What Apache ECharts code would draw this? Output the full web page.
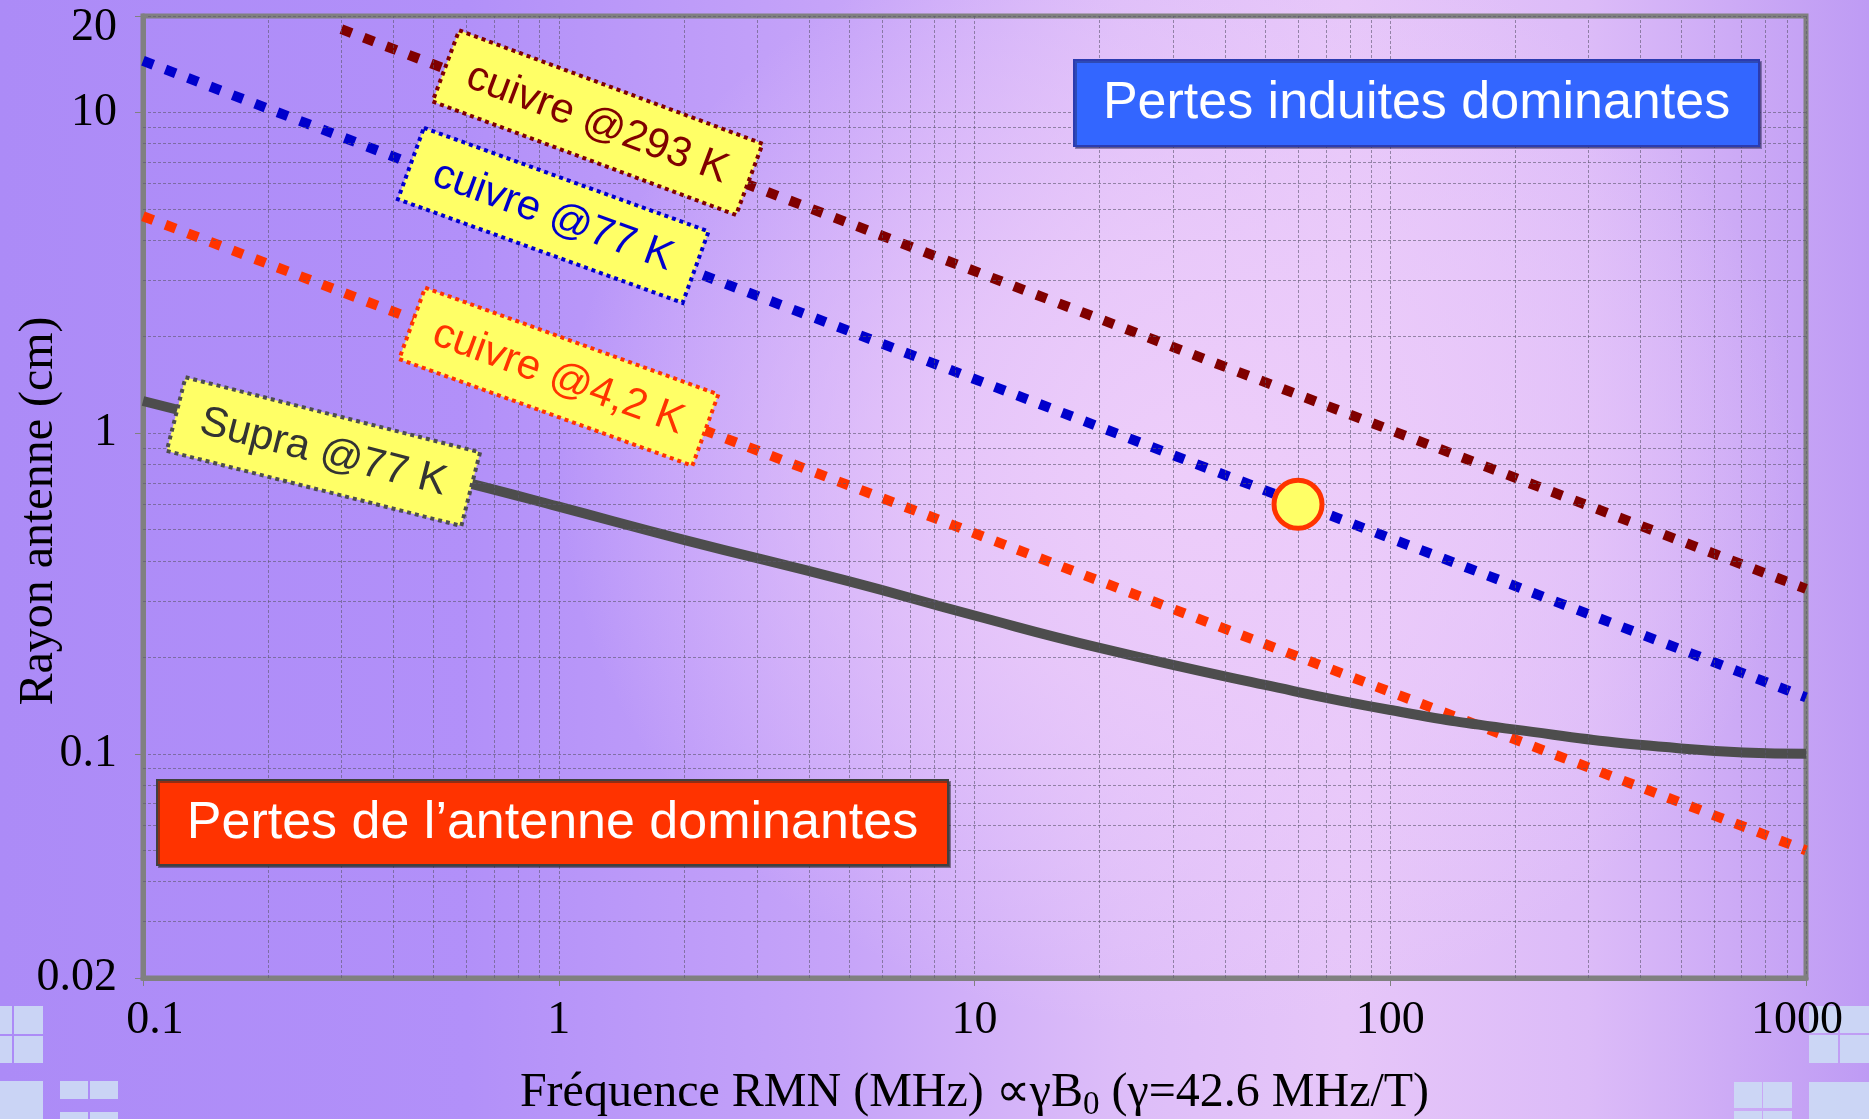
<!DOCTYPE html>
<html>
<head>
<meta charset="utf-8">
<title>Rayon antenne vs fréquence RMN</title>
<script src="https://cdn.jsdelivr.net/npm/echarts@6/dist/echarts.min.js"></script>
<style>
  html, body { margin: 0; padding: 0; width: 1869px; height: 1119px; overflow: hidden; }
  #chart {
    width: 1869px; height: 1119px;
    background:
      radial-gradient(ellipse 620px 560px at 1180px 470px, rgba(238,206,250,0.95) 0%, rgba(236,204,250,0.75) 40%, rgba(236,204,250,0) 100%),
      linear-gradient(90deg, #AC8BF7 0%, #B290F9 25%, #C6A4F9 45%, #DDBDF9 60%, #E6C6F9 72%, #DCBBF8 85%, #BE9BF4 100%);
  }
</style>
</head>
<body>
<div id="chart"></div>
<script>
// ---- axes ----
const freqMin = 0.1, freqMax = 1000;
const radiusMin = 0.02, radiusMax = 20;
const freqTicks = [0.1, 1, 10, 100, 1000];
const freqTickLabels = ['0.1', '1', '10', '100', '1000'];
const radiusTicks = [0.02, 0.1, 1, 10, 20];
const radiusTickLabels = ['0.02', '0.1', '1', '10', '20'];
const freqMinorGrid = [0.2, 0.3, 0.4, 0.5, 0.6, 0.7, 0.8, 0.9, 2, 3, 4, 5, 6, 7, 8, 9,
                       20, 30, 40, 50, 60, 70, 80, 90, 200, 300, 400, 500, 600, 700, 800, 900];
const radiusMinorGrid = [0.03, 0.04, 0.05, 0.06, 0.07, 0.08, 0.09,
                         0.2, 0.3, 0.4, 0.5, 0.6, 0.7, 0.8, 0.9, 2, 3, 4, 5, 6, 7, 8, 9];

// ---- series (frequency MHz, radius cm) ----
const cuivre293 = [[0.3, 18.2], [1000, 0.327]];
const cuivre77 = [[0.1, 14.5], [1000, 0.15]];
const cuivre42 = [[0.1, 4.75], [1000, 0.05]];
const supraFreq = [0.1, 0.63, 1, 2, 5, 10, 20, 50, 100, 200, 500, 1000];
const supraRadius = [1.26, 0.69, 0.59, 0.465, 0.345, 0.27, 0.214, 0.164, 0.137, 0.119, 0.104, 0.100];
const pointFreq = [60];
const pointRadius = [0.6];

const seriesNames = ['cuivre @293 K', 'cuivre @77 K', 'cuivre @4,2 K', 'Supra @77 K'];

const SERIF = '"Liberation Serif", "Times New Roman", Times, serif';
const SANS = '"Liberation Sans", Arial, Helvetica, sans-serif';
const GRID_LINE = { color: 'rgba(92,86,110,0.6)', width: 1, type: [3, 2] };

function tickIndex(list, v) {
  for (let i = 0; i < list.length; i++) {
    if (Math.abs(Math.log10(v) - Math.log10(list[i])) < 1e-4) return i;
  }
  return -1;
}

const chart = echarts.init(document.getElementById('chart'), null, { renderer: 'canvas' });

const option = {
  backgroundColor: 'transparent',
  animation: false,
  grid: {
    left: 143, right: 63, top: 16, bottom: 141,
    containLabel: false, outerBoundsMode: 'none',
    show: true, borderColor: '#808080', borderWidth: 5, backgroundColor: 'transparent'
  },
  xAxis: {
    type: 'log', logBase: 10, min: freqMin, max: freqMax,
    name: '{t|Fréquence RMN (MHz) ∝γB}{s|0}{t| (γ=42.6 MHz/T)}',
    nameLocation: 'middle', nameGap: 86, nameMoveOverlap: false,
    nameTextStyle: {
      color: '#000',
      rich: {
        t: { fontFamily: SERIF, fontSize: 48, lineHeight: 58, color: '#000' },
        s: { fontFamily: SERIF, fontSize: 33, lineHeight: 33, color: '#000', verticalAlign: 'bottom' }
      }
    },
    axisLine: { show: true, lineStyle: { color: '#808080', width: 5 } },
    axisTick: { show: true, length: 8, inside: false, lineStyle: { color: '#808080', width: 1 } },
    splitLine: { show: true, lineStyle: GRID_LINE },
    axisLabel: {
      show: true, margin: 20, color: '#000', fontFamily: SERIF, fontSize: 46,
      showMinLabel: true, showMaxLabel: true,
      formatter: function (v) {
        const i = tickIndex(freqTicks, v);
        if (i < 0) return '';
        if (i === 0) return '{lo|' + freqTickLabels[i] + '}';
        if (i === freqTicks.length - 1) return '{hi|' + freqTickLabels[i] + '}';
        return freqTickLabels[i];
      },
      rich: {
        lo: { fontFamily: SERIF, fontSize: 46, color: '#000', padding: [0, 0, 0, 24] },
        hi: { fontFamily: SERIF, fontSize: 46, color: '#000', padding: [0, 18, 0, 0] }
      }
    }
  },
  yAxis: {
    type: 'log', logBase: 10, min: radiusMin, max: radiusMax,
    name: 'Rayon antenne (cm)',
    nameLocation: 'middle', nameGap: 80, nameRotate: 90, nameMoveOverlap: false,
    nameTextStyle: { color: '#000', fontFamily: SERIF, fontSize: 48, padding: [0, 28, 0, 0] },
    axisLine: { show: true, lineStyle: { color: '#808080', width: 5 } },
    axisTick: { show: true, length: 8, inside: false, lineStyle: { color: '#808080', width: 1 } },
    splitLine: { show: true, lineStyle: GRID_LINE },
    axisLabel: {
      show: true, margin: 26, color: '#000', fontFamily: SERIF, fontSize: 46,
      showMinLabel: true, showMaxLabel: true,
      formatter: function (v) {
        const i = tickIndex(radiusTicks, v);
        if (i < 0) return '';
        if (i === radiusTicks.length - 1) return '{top|' + radiusTickLabels[i] + '}';
        return radiusTickLabels[i];
      },
      rich: {
        top: { fontFamily: SERIF, fontSize: 46, color: '#000', padding: [24, 0, 0, 0] }
      }
    }
  },
  series: [
    {
      name: 'minor-grid', type: 'line', data: [], z: 1, silent: true,
      markLine: {
        silent: true, symbol: ['none', 'none'], animation: false,
        label: { show: false },
        lineStyle: GRID_LINE,
        emphasis: { disabled: true },
        data: freqMinorGrid.map(v => ({ xAxis: v })).concat(radiusMinorGrid.map(v => ({ yAxis: v })))
      }
    },
    {
      name: seriesNames[0], type: 'line', data: cuivre293, showSymbol: false, silent: true, z: 3,
      lineStyle: { color: '#800000', width: 10, type: [11, 13], cap: 'butt' }
    },
    {
      name: seriesNames[1], type: 'line', data: cuivre77, showSymbol: false, silent: true, z: 3,
      lineStyle: { color: '#0000CC', width: 10, type: [11, 13], cap: 'butt' }
    },
    {
      name: seriesNames[2], type: 'line', data: cuivre42, showSymbol: false, silent: true, z: 3,
      lineStyle: { color: '#FF3300', width: 10, type: [11, 13], cap: 'butt' }
    },
    {
      name: seriesNames[3], type: 'line', smooth: 0.5, showSymbol: false, silent: true, z: 4,
      data: supraFreq.map((f, i) => [f, supraRadius[i]]),
      lineStyle: { color: '#4D4D4D', width: 10, cap: 'butt' }
    },
    {
      name: 'point', type: 'scatter', z: 6, silent: true,
      data: pointFreq.map((f, i) => [f, pointRadius[i]]),
      symbol: 'circle', symbolSize: 48,
      itemStyle: { color: '#FFFF66', borderColor: '#FF3300', borderWidth: 5, opacity: 1 }
    }
  ]
};

chart.setOption(option);

// Tags sitting on each curve (anchor in data coordinates)
const curveTags = [
  { text: seriesNames[0], at: [1.24, 9.3], w: 324, h: 76, angle: 20.5, stroke: '#800000', fill: '#800000' },
  { text: seriesNames[1], at: [0.97, 4.78], w: 303, h: 76, angle: 20, stroke: '#0000CC', fill: '#0000CC' },
  { text: seriesNames[2], at: [1.0, 1.5], w: 312, h: 76, angle: 20, stroke: '#FF3300', fill: '#FF3300' },
  { text: seriesNames[3], at: [0.2716, 0.876], w: 304, h: 76, angle: 14.3, stroke: '#4D4D4D', fill: '#333333' }
];

// Corner decoration tiles
const tiles = [
  [0, 1006, 12, 28], [14, 1006, 29, 28], [0, 1036, 12, 27], [14, 1036, 29, 27],
  [0, 1081, 43, 38], [60, 1081, 28, 18], [90, 1081, 28, 18], [60, 1112, 28, 7], [90, 1112, 28, 7],
  [1809, 1006, 29, 27], [1840, 1006, 29, 27], [1809, 1035, 29, 28], [1840, 1035, 29, 28],
  [1734, 1082, 28, 26], [1763, 1082, 29, 26], [1734, 1111, 28, 8], [1763, 1111, 29, 8], [1809, 1082, 60, 37]
];

function buildGraphics() {
  const els = [];
  tiles.forEach(r => els.push({
    type: 'rect', silent: true, z: 0,
    shape: { x: r[0], y: r[1], width: r[2], height: r[3] },
    style: { fill: 'rgba(204,218,244,0.92)' }
  }));

  curveTags.forEach(t => {
    const p = chart.convertToPixel({ gridIndex: 0 }, t.at);
    els.push({
      type: 'group', x: p[0], y: p[1], rotation: -t.angle * Math.PI / 180, z: 50, silent: true,
      children: [
        { type: 'rect', z: 50, shape: { x: -t.w / 2, y: -t.h / 2, width: t.w, height: t.h },
          style: { fill: '#FFFF66', stroke: t.stroke, lineWidth: 4, lineDash: [4, 4] } },
        { type: 'text', z: 51, x: 0, y: 1,
          style: { text: t.text, fill: t.fill, font: '42px ' + SANS, align: 'center', verticalAlign: 'middle' } }
      ]
    });
  });

  // Regime boxes
  els.push({
    type: 'group', z: 50, silent: true,
    children: [
      { type: 'rect', z: 50, shape: { x: 1074, y: 60, width: 685, height: 86 },
        style: { fill: '#3366FF', stroke: '#2B3BB0', lineWidth: 2, shadowColor: 'rgba(40,40,90,0.45)', shadowOffsetX: 2, shadowOffsetY: 2 } },
      { type: 'text', z: 51, x: 1416.5, y: 104,
        style: { text: 'Pertes induites dominantes', fill: '#FFFFFF', font: '52px ' + SANS, align: 'center', verticalAlign: 'middle' } },
      { type: 'rect', z: 50, shape: { x: 157, y: 780, width: 791, height: 85 },
        style: { fill: '#FF3300', stroke: '#404040', lineWidth: 2, shadowColor: 'rgba(40,40,40,0.5)', shadowOffsetX: 2, shadowOffsetY: 2 } },
      { type: 'text', z: 51, x: 552.5, y: 824,
        style: { text: 'Pertes de l\u2019antenne dominantes', fill: '#FFFFFF', font: '52px ' + SANS, align: 'center', verticalAlign: 'middle' } }
    ]
  });

  chart.setOption({ graphic: { elements: els } });
}

buildGraphics();
</script>
</body>
</html>
